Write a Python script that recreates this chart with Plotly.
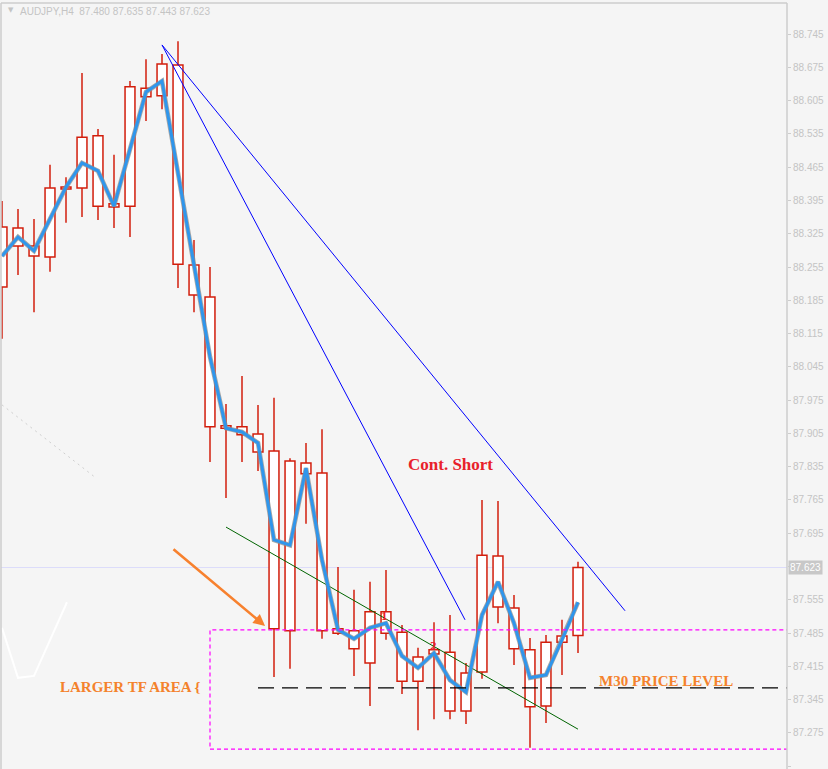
import plotly.graph_objects as go

# ---- data ----
candle_idx = list(range(37))
highs = [88.394, 88.377, 88.356, 88.470, 88.444, 88.663, 88.545, 88.491, 88.646, 88.692,
         88.703, 88.730, 88.312, 88.255, 87.967, 88.026, 87.965, 87.980, 87.853, 87.885,
         87.914, 87.624, 87.576, 87.593, 87.618, 87.502, 87.454, 87.508, 87.523, 87.422,
         87.765, 87.763, 87.565, 87.475, 87.481, 87.513, 87.635]
body_tops = [88.339, 88.337, 88.299, 88.421, 88.423, 88.528, 88.531, 88.388, 88.634, 88.631,
             88.682, 88.680, 88.259, 88.192, 87.921, 87.919, 87.904, 87.868, 87.847, 87.843,
             87.822, 87.494, 87.490, 87.530, 87.530, 87.487, 87.435, 87.450, 87.445, 87.401,
             87.649, 87.647, 87.538, 87.450, 87.466, 87.479, 87.623]
body_bottoms = [88.213, 88.299, 88.278, 88.276, 88.419, 88.421, 88.383, 88.381, 88.383, 88.613,
                88.615, 88.261, 88.196, 87.919, 87.916, 87.902, 87.866, 87.494, 87.490, 87.820,
                87.490, 87.485, 87.452, 87.422, 87.485, 87.384, 87.384, 87.441, 87.321, 87.321,
                87.403, 87.540, 87.452, 87.330, 87.332, 87.466, 87.480]
lows = [88.104, 88.238, 88.160, 88.245, 88.348, 88.360, 88.354, 88.337, 88.318, 88.562,
        88.587, 88.211, 88.160, 87.845, 87.769, 87.845, 87.826, 87.393, 87.410, 87.715,
        87.473, 87.481, 87.395, 87.332, 87.471, 87.357, 87.281, 87.304, 87.304, 87.294,
        87.389, 87.506, 87.418, 87.244, 87.296, 87.397, 87.443]
ma_values = [88.278, 88.318, 88.289, 88.356, 88.423, 88.474, 88.457, 88.383, 88.503, 88.623,
             88.646, 88.451, 88.253, 88.066, 87.916, 87.908, 87.885, 87.681, 87.670, 87.832,
             87.639, 87.492, 87.473, 87.496, 87.506, 87.437, 87.412, 87.443, 87.386, 87.361,
             87.523, 87.593, 87.506, 87.391, 87.397, 87.471, 87.550]

symbol_title = "AUDJPY,H4  87.480 87.635 87.443 87.623"
current_price = 87.623
tick0, tick_step, tick_last = 87.205, 0.07, 88.745

trend_a = ([10.0, 28.94], [88.722, 87.513])
trend_b = ([10.0, 38.94], [88.722, 87.532])
green_line = ([14.0, 36.0], [87.708, 87.283])
area_x0, area_x1 = 13.0, 60.0
area_top, area_bottom = 87.492, 87.241
m30_level, m30_start = 87.370, 16.0
arrow_from = (10.625, 87.664)
arrow_to = (16.44, 87.500)
white_line = ([0.0, 1.0, 2.0, 4.06], [87.496, 87.391, 87.395, 87.550])
gray_dotted = ([0.0, 5.81], [87.965, 87.813])

labels = [
    ("Cont. Short", 28.0, 87.839, "#E8202A", 17),
    ("LARGER TF AREA {", 8.06, 87.372, "#F4822C", 15),
    ("M30 PRICE LEVEL", 41.5, 87.384, "#F4822C", 15),
    ("1", 23.875, 87.523, "#E8202A", 13),
    ("2", 26.94, 87.460, "#E8202A", 13),
]

# ---- figure ----
RED = "#D21E0C"
BG = "#F5F5F5"
fig = go.Figure()

# wick segments (above and below body)
wx, wy = [], []
for i, h, t, b, l in zip(candle_idx, highs, body_tops, body_bottoms, lows):
    wx += [i, i, None, i, i, None]
    wy += [h, t, None, b, l, None]

fig.add_trace(go.Bar(
    x=candle_idx,
    y=[t - b for t, b in zip(body_tops, body_bottoms)],
    base=body_bottoms,
    width=0.62,
    marker=dict(color="white", line=dict(color=RED, width=1.5)),
    hoverinfo="skip", showlegend=False,
))
fig.add_trace(go.Scatter(x=wx, y=wy, mode="lines",
                         line=dict(color=RED, width=1.5),
                         hoverinfo="skip", showlegend=False))

# gray dotted line & white line at left
fig.add_trace(go.Scatter(x=gray_dotted[0], y=gray_dotted[1], mode="lines",
                         line=dict(color="#CFCFCF", width=1, dash="2px,4px"),
                         hoverinfo="skip", showlegend=False))
fig.add_trace(go.Scatter(x=white_line[0], y=white_line[1], mode="lines",
                         line=dict(color="white", width=2),
                         hoverinfo="skip", showlegend=False))

# trend lines
for (lx, ly), col in [(trend_a, "#0000FF"), (trend_b, "#0000FF"), (green_line, "#006400")]:
    fig.add_trace(go.Scatter(x=lx, y=ly, mode="lines", line=dict(color=col, width=1),
                             hoverinfo="skip", showlegend=False))

# moving-average line with shadow
fig.add_trace(go.Scatter(x=candle_idx, y=ma_values, mode="lines",
                         line=dict(color="rgba(140,140,140,0.75)", width=4.6),
                         hoverinfo="skip", showlegend=False))
fig.add_trace(go.Scatter(x=candle_idx, y=ma_values, mode="lines",
                         line=dict(color="#2F96EC", width=3),
                         hoverinfo="skip", showlegend=False))

shapes = [
    # current price line
    dict(type="line", xref="paper", x0=0, x1=1, yref="y", y0=current_price, y1=current_price,
         line=dict(color="#DCDCFA", width=1), layer="below"),
    # larger TF area (dotted magenta rectangle)
    dict(type="rect", xref="x", x0=area_x0, x1=area_x1, yref="y", y0=area_bottom, y1=area_top,
         line=dict(color="#FF00FF", width=1.2, dash="4px,3px")),
    # M30 level
    dict(type="line", xref="x", x0=m30_start, x1=area_x1, yref="y", y0=m30_level, y1=m30_level,
         line=dict(color="black", width=1.3, dash="16px,8px")),
    # frame
    dict(type="line", xref="paper", yref="paper", x0=0, x1=0, y0=0, y1=1,
         line=dict(color="#CDCDCD", width=1.5)),
    dict(type="line", xref="paper", yref="paper", x0=0, x1=1, y0=1, y1=1,
         line=dict(color="#CDCDCD", width=1.5)),
    dict(type="line", xref="paper", yref="paper", x0=1, x1=1, y0=0, y1=1,
         line=dict(color="#CDCDCD", width=1.5)),
]

annotations = []
for text, x, y, col, size in labels:
    annotations.append(dict(x=x, y=y, xref="x", yref="y", text="<b>%s</b>" % text,
                            showarrow=False, xanchor="center", yanchor="middle",
                            font=dict(family="Liberation Serif", size=size, color=col)))
annotations.append(dict(x=arrow_to[0], y=arrow_to[1], xref="x", yref="y",
                        ax=arrow_from[0], ay=arrow_from[1], axref="x", ayref="y",
                        text="", showarrow=True, arrowhead=2, arrowsize=0.9,
                        arrowwidth=2.6, arrowcolor="#F7812E"))
annotations.append(dict(x=17 / 786, y=(769 - 11) / 766, xref="paper", yref="paper",
                        text=symbol_title, showarrow=False, xanchor="left", yanchor="middle",
                        font=dict(family="Liberation Sans", size=10, color="#C4C4C4")))
annotations.append(dict(x=5 / 786, y=(769 - 10) / 766, xref="paper", yref="paper",
                        text="▼", showarrow=False, xanchor="left", yanchor="middle",
                        font=dict(family="DejaVu Sans", size=7, color="#C4C4C4")))
annotations.append(dict(x=1, y=current_price, xref="paper", yref="y", xanchor="left",
                        yanchor="middle", xshift=1, text="87.623", showarrow=False,
                        bgcolor="#C8C8C8", borderpad=1,
                        font=dict(family="Liberation Sans", size=10, color="white")))

n_ticks = int(round((tick_last - tick0) / tick_step)) + 1
tickvals = [round(tick0 + k * tick_step, 3) for k in range(n_ticks)]
# the tick label under the current-price box is hidden in the reference
ticktext = ["" if abs(v - current_price) < 0.02 else "%.3f" % v for v in tickvals]

y_top = 88.745 + (34 - 3) / 475.5
y_bot = 88.745 - (769 - 34) / 475.5

fig.update_layout(
    width=828, height=769,
    margin=dict(l=1, r=41, t=3, b=0),
    paper_bgcolor=BG, plot_bgcolor=BG,
    barmode="overlay",
    showlegend=False,
    shapes=shapes,
    annotations=annotations,
    xaxis=dict(range=[-0.0625, 49.0625], visible=False, fixedrange=True),
    yaxis=dict(range=[y_bot, y_top], side="right", showgrid=False, zeroline=False,
               tickvals=tickvals, ticktext=ticktext,
               ticks="outside", ticklen=3, tickcolor="#CDCDCD",
               tickfont=dict(family="Liberation Sans", size=10, color="#C4C4C4"),
               showline=False, fixedrange=True),
)

fig.write_html(
    "out.html",
    config={"displayModeBar": False},
    post_script="document.body.style.margin='0';document.body.style.overflow='hidden';"
                "document.body.style.background='#F5F5F5';",
)
